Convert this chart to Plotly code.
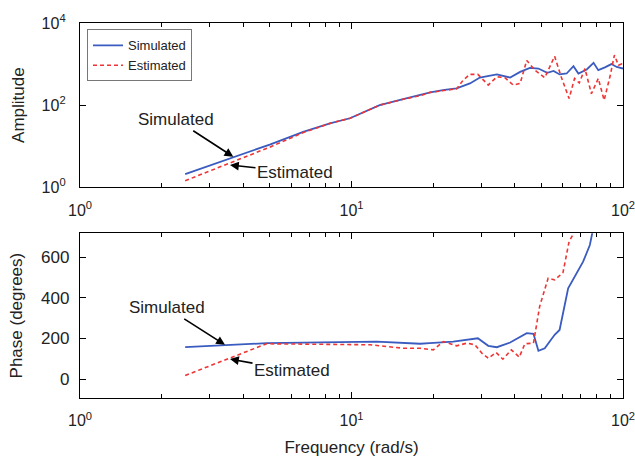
import plotly.graph_objects as go

# ---------------- data ----------------
freq_amp_sim = [2.44, 3.0, 3.72, 5.0, 6.64, 8.33, 9.87, 12.7, 15.5, 17.9, 19.5, 22.0, 24.4,
                27.3, 29.7, 34.3, 38.4, 41.8, 45.4, 48.8, 52.6, 55.5, 58.4, 62.0, 65.7,
                68.5, 73.5, 77.9, 81.1, 85.8, 90.6, 94.8, 100.0]
amp_sim = [2.1, 3.4, 5.5, 11.0, 22.4, 36.0, 48.0, 100.0, 140.0, 174.0, 205.0, 235.0, 256.0,
           338.0, 470.0, 560.0, 470.0, 645.0, 810.0, 780.0, 615.0, 680.0, 560.0, 590.0, 890.0,
           590.0, 740.0, 1070.0, 710.0, 830.0, 1000.0, 850.0, 780.0]

freq_amp_est = [2.44, 3.72, 5.0, 6.64, 8.33, 9.87, 12.7, 15.5, 17.9, 19.5, 22.0, 24.4, 25.8,
                27.3, 29.2, 31.9, 34.3, 36.7, 39.4, 41.8, 44.2, 47.4, 51.5, 56.0, 59.2,
                63.3, 66.3, 69.0, 72.4, 76.5, 81.1, 85.2, 89.5, 93.0, 96.2, 98.8, 100.0]
amp_est = [1.45, 4.4, 9.5, 21.5, 36.0, 48.0, 100.0, 140.0, 170.0, 205.0, 232.0, 250.0, 408.0,
           562.0, 562.0, 309.0, 490.0, 468.0, 309.0, 339.0, 1230.0, 708.0, 468.0, 1550.0, 490.0,
           145.0, 447.0, 347.0, 776.0, 190.0, 447.0, 132.0, 490.0, 1660.0, 933.0, 1000.0, 900.0]

freq_ph_sim = [2.44, 4.87, 12.4, 17.9, 19.4, 23.7, 29.2, 31.9, 34.3, 38.4, 44.2, 46.8, 48.8,
               51.5, 56.0, 58.4, 62.8, 66.3, 71.3, 75.5, 77.1, 79.0]
phase_sim = [157, 177, 185, 174, 177, 185, 201, 164, 157, 180, 226, 223, 139,
             152, 218, 242, 447, 505, 578, 660, 718, 790]

freq_ph_est = [2.44, 4.87, 11.7, 15.5, 17.9, 20.0, 21.8, 24.4, 26.6, 28.5, 30.2, 31.9, 34.1,
               36.1, 38.8, 41.5, 43.5, 46.8, 49.3, 53.0, 56.0, 60.1, 63.3, 65.8, 67.0]
phase_est = [18, 174, 169, 152, 152, 144, 185, 164, 177, 169, 128, 103, 131,
             98, 144, 108, 174, 177, 357, 497, 488, 524, 677, 718, 780]

series_names = ["Simulated", "Estimated"]
freq_tick_vals = [1, 10, 100]
freq_tick_text = ["10<sup>0</sup>", "10<sup>1</sup>", "10<sup>2</sup>"]
freq_minor_vals = [2, 3, 4, 5, 6, 7, 8, 9, 20, 30, 40, 50, 60, 70, 80, 90]
amp_tick_vals = [1, 100, 10000]
amp_tick_text = ["10<sup>0</sup>", "10<sup>2</sup>", "10<sup>4</sup>"]
phase_tick_vals = [0, 200, 400, 600]

BLUE = "#3a5bbf"
RED = "#f03434"
FONT = "Liberation Sans, Arial, sans-serif"
TXT = "#222"

fig = go.Figure()
fig.add_trace(go.Scatter(x=freq_amp_sim, y=amp_sim, mode="lines", name=series_names[0],
                         line=dict(color=BLUE, width=1.8), xaxis="x", yaxis="y"))
fig.add_trace(go.Scatter(x=freq_amp_est, y=amp_est, mode="lines", name=series_names[1],
                         line=dict(color=RED, width=1.6, dash="4px,3px"), xaxis="x", yaxis="y"))
fig.add_trace(go.Scatter(x=freq_ph_sim, y=phase_sim, mode="lines", showlegend=False,
                         line=dict(color=BLUE, width=1.8), xaxis="x2", yaxis="y2"))
fig.add_trace(go.Scatter(x=freq_ph_est, y=phase_est, mode="lines", showlegend=False,
                         line=dict(color=RED, width=1.6, dash="4px,3px"), xaxis="x2", yaxis="y2"))

frame = dict(showline=True, linecolor="black", linewidth=1.3, mirror="allticks",
             ticks="inside", ticklen=6, tickcolor="black", tickwidth=1.2,
             showgrid=False, zeroline=False, automargin=False)

common_x = dict(type="log", range=[0, 2], tickvals=freq_tick_vals, ticktext=freq_tick_text,
                ticklabelstandoff=8, ticklabeloverflow="allow",
                tickfont=dict(family=FONT, size=16, color=TXT),
                minor=dict(ticks="inside", ticklen=4, tickcolor="black", tickvals=freq_minor_vals,
                           showgrid=False),
                **frame)

fig.update_layout(
    width=635, height=462,
    margin=dict(l=80, r=12, t=23, b=64, autoexpand=False),
    paper_bgcolor="white", plot_bgcolor="white",
    font=dict(family=FONT, color=TXT),
    xaxis=dict(**common_x, anchor="y", domain=[0, 1]),
    yaxis=dict(type="log", range=[0, 4], tickvals=amp_tick_vals, ticktext=amp_tick_text,
               domain=[0.5618, 1], anchor="x", ticklabelstandoff=10,
               tickfont=dict(family=FONT, size=16, color=TXT),
               title=dict(text="Amplitude", font=dict(family=FONT, size=17, color=TXT), standoff=12),
               **frame),
    xaxis2=dict(**common_x, anchor="y2", domain=[0, 1],
                title=dict(text="Frequency (rad/s)", font=dict(family=FONT, size=17, color=TXT), standoff=12)),
    yaxis2=dict(range=[-93, 718], tickvals=phase_tick_vals, domain=[0, 0.4393], anchor="x2",
                ticklabelstandoff=6, tickfont=dict(family=FONT, size=17, color=TXT),
                title=dict(text="Phase (degrees)", font=dict(family=FONT, size=17, color=TXT), standoff=14),
                **frame),
    legend=dict(x=0.0129, y=0.983, xanchor="left", yanchor="top", bgcolor="white",
                bordercolor="#777", borderwidth=1, font=dict(family=FONT, size=13, color=TXT),
                itemwidth=30, tracegroupgap=0),
    showlegend=True,
)

ann_font = dict(family=FONT, size=17, color=TXT)
arrow = dict(showarrow=True, arrowhead=2, arrowsize=1.1, arrowwidth=1.6, arrowcolor="black",
             font=ann_font, axref="pixel", ayref="pixel")
fig.add_annotation(text="Simulated", x=0.5646, y=0.744, xref="x", yref="y", ax=-57, ay=-37, **arrow)
fig.add_annotation(text="Estimated", x=0.5525, y=0.542, xref="x", yref="y", ax=65, ay=7, **arrow)
fig.add_annotation(text="Simulated", x=0.534, y=168.7, xref="x2", yref="y2", ax=-58, ay=-37, **arrow)
fig.add_annotation(text="Estimated", x=0.5525, y=98.4, xref="x2", yref="y2", ax=62, ay=11, **arrow)

# remove the default page margin so the 635x462 figure fills the window exactly
fig.write_html("out.html", config={"displayModeBar": False},
               post_script="document.body.style.margin='0';document.body.style.overflow='hidden';")
